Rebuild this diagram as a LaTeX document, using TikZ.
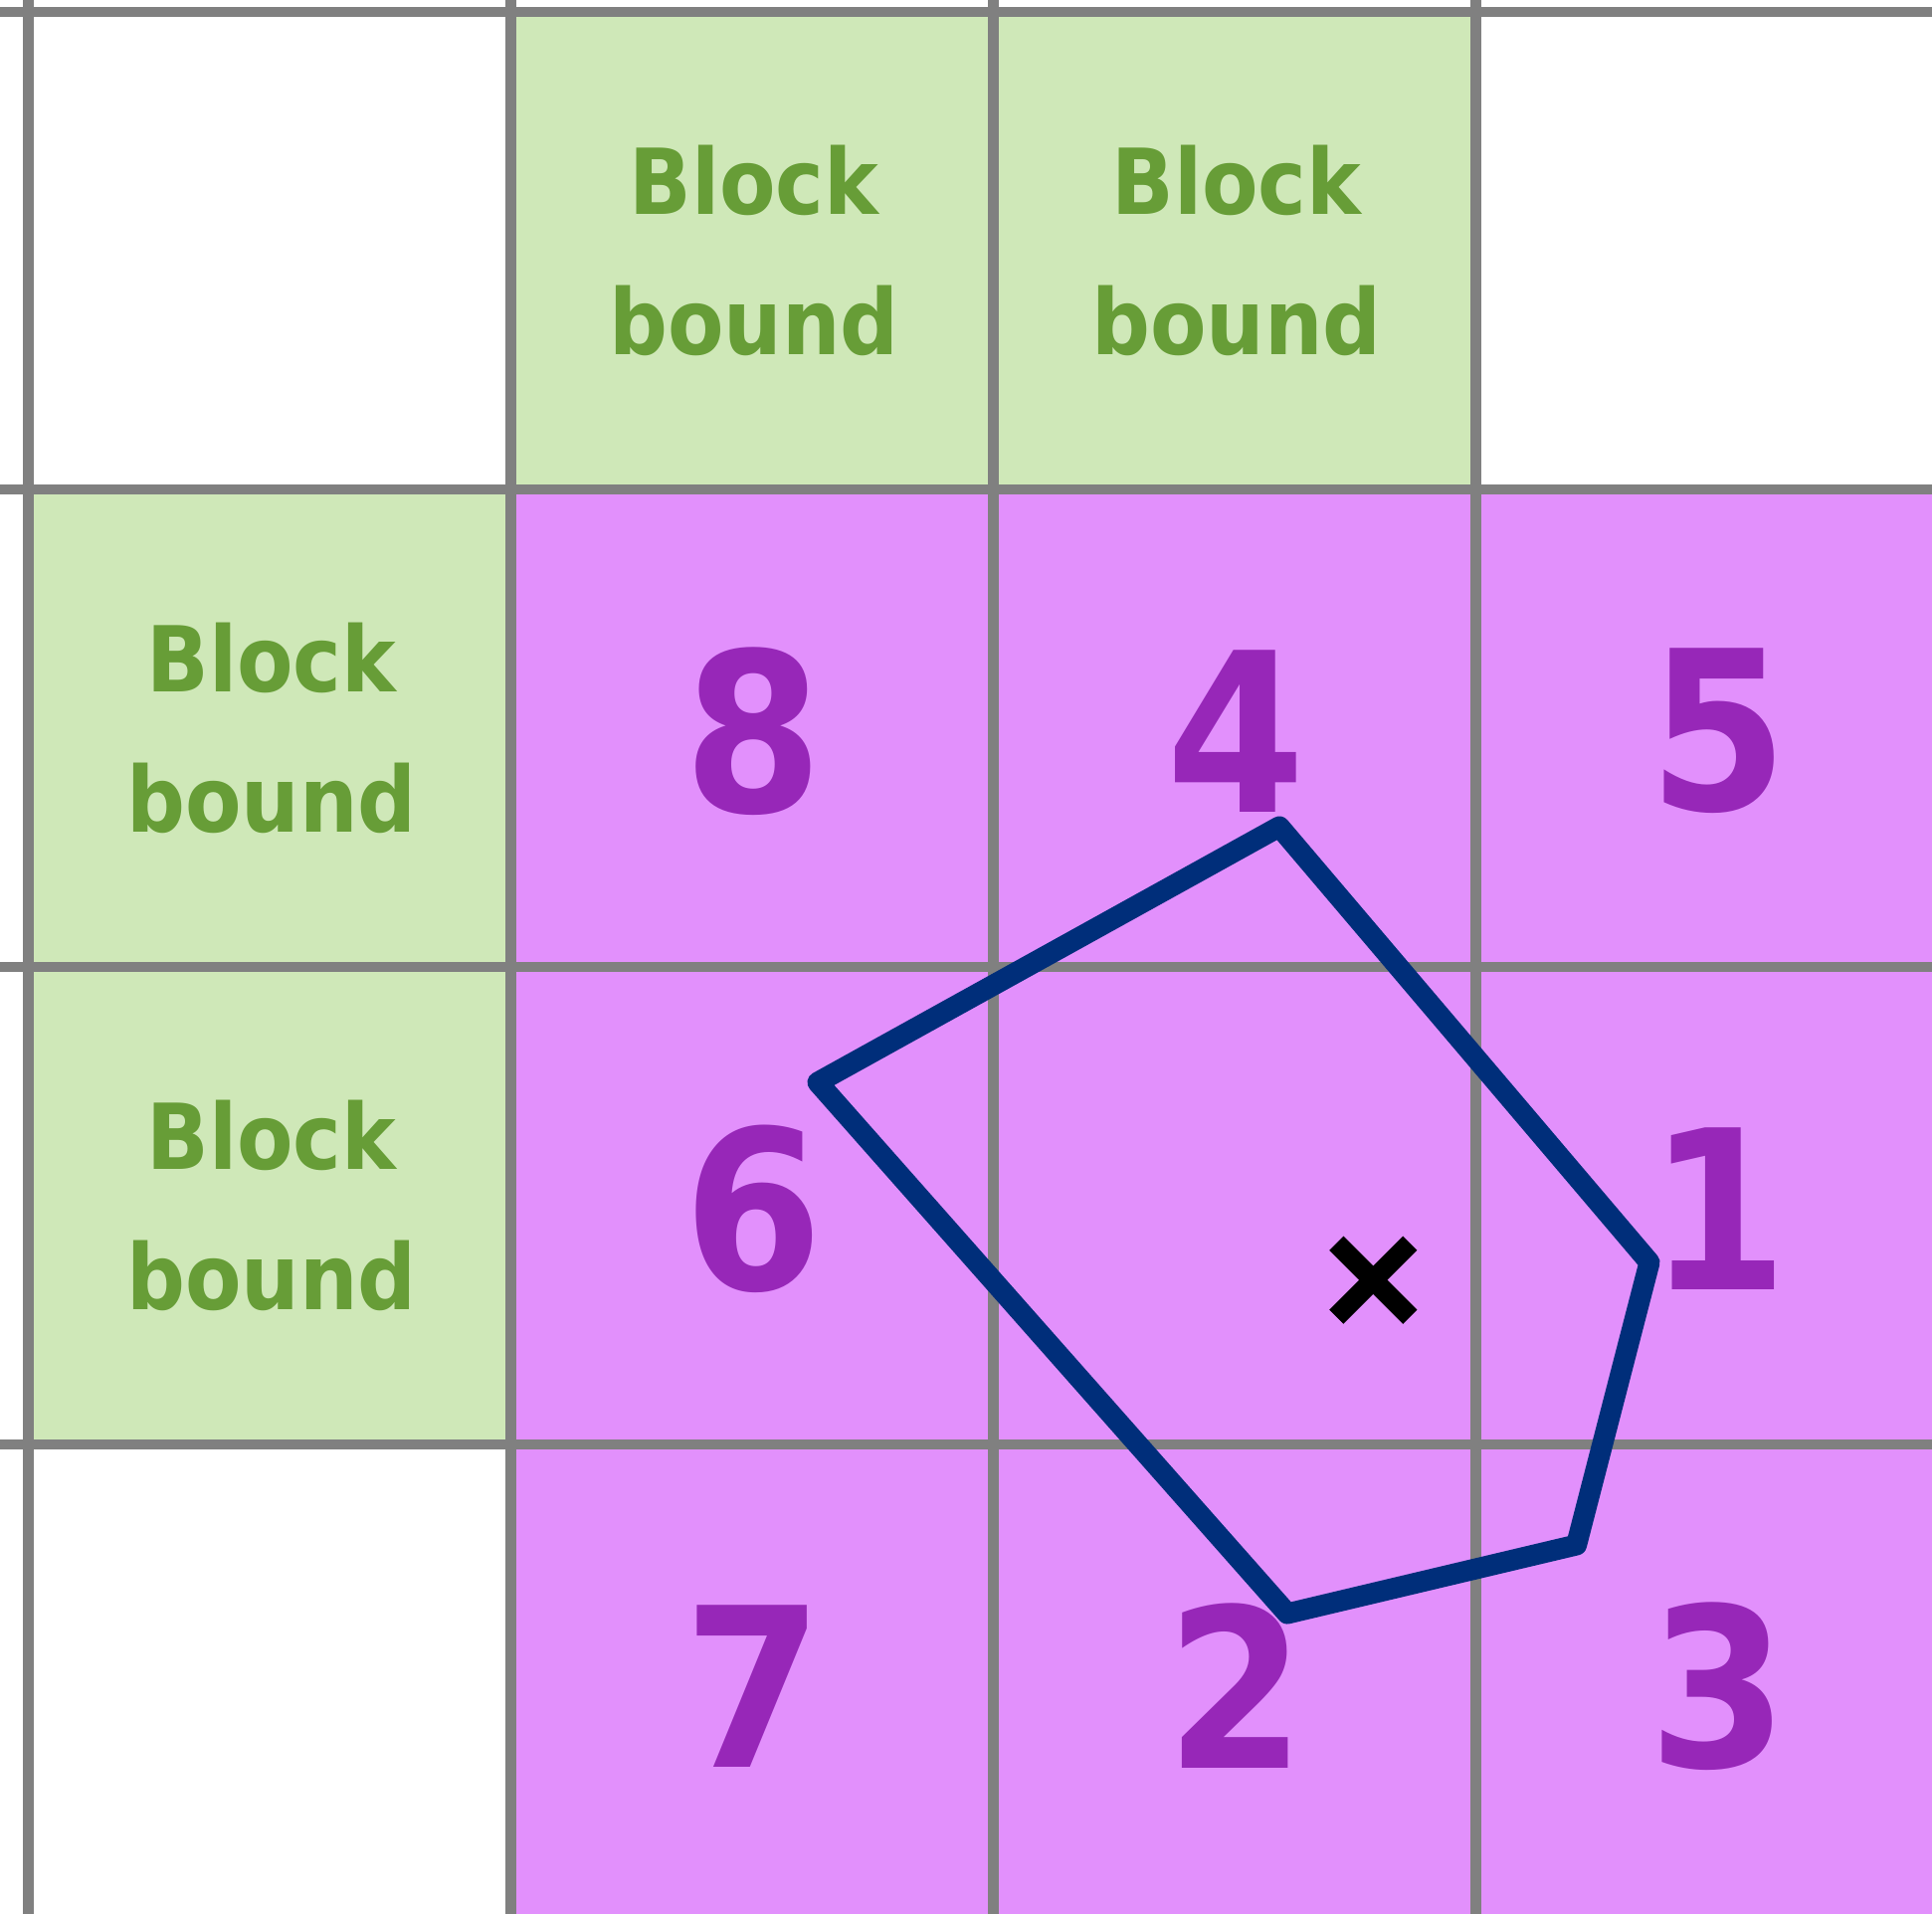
\documentclass[tikz,border=0pt]{standalone}
\usepackage{fontspec}
\newfontfamily\cellfont{DejaVu Sans Condensed}
\definecolor{gridgray}{RGB}{128,128,128}
\definecolor{blockgreen}{RGB}{207,232,184}
\definecolor{boundgreen}{RGB}{103,157,55}
\definecolor{cellpink}{RGB}{226,144,252}
\definecolor{numpurple}{RGB}{151,39,184}
\definecolor{polynavy}{RGB}{0,46,122}
\begin{document}
\begin{tikzpicture}[x=0.01cm,y=-0.01cm,
    gridline/.style={gridgray,line width=0.105cm},
    blocktext/.style={align=center,text=boundgreen,
      font=\cellfont\bfseries\fontsize{26}{40.3}\selectfont},
    numtext/.style={text=numpurple,
      font=\cellfont\bfseries\fontsize{63.5}{70}\selectfont},
    polyline/.style={polynavy,line width=0.21cm,line join=round},
    crossline/.style={black,line width=0.2cm}]
    % 1. Khung ve (1 don vi = 1 pixel, truc y huong xuong)
    \useasboundingbox (0,0) rectangle (1942,1924);
    \fill[white] (0,0) rectangle (1942,1924);

    % 2. To mau cac o
    \fill[blockgreen] (513.6,11.8) rectangle (1483.4,491.8);
    \fill[blockgreen] (28.7,491.8) rectangle (513.6,1451.8);
    \fill[cellpink] (513.6,491.8) rectangle (1942,1924);

    % 3. Luoi
    \foreach \x in {28.7,513.6,998.5,1483.4}
        \draw[gridline] (\x,0) -- (\x,1924);
    \foreach \y in {11.8,491.8,971.8,1451.8}
        \draw[gridline] (0,\y) -- (1942,\y);

    % 4. Nhan "Block bound"
    \node[blocktext] (bbA) at (758,252) {Block\\bound};
    \node[blocktext] (bbB) at (1243,252) {Block\\bound};
    \node[blocktext] (bbC) at (273,732) {Block\\bound};
    \node[blocktext] (bbD) at (273,1212) {Block\\bound};

    % 5. So thu tu cac o
    \node[numtext] (n8) at (757,735) {8};
    \node[numtext] (n4) at (1242,735) {4};
    \node[numtext] (n5) at (1727,735) {5};
    \node[numtext] (n6) at (757,1215) {6};
    \node[numtext] (n1) at (1727,1215) {1};
    \node[numtext] (n7) at (757,1695) {7};
    \node[numtext] (n2) at (1242,1695) {2};
    \node[numtext] (n3) at (1727,1695) {3};

    % 6. Da giac
    \coordinate (pA) at (1286,831);
    \coordinate (pB) at (1658,1269);
    \coordinate (pC) at (1584.6,1553);
    \coordinate (pD) at (1294,1622);
    \coordinate (pE) at (822,1088);
    \draw[polyline] (pA) -- (pB) -- (pC) -- (pD) -- (pE) -- cycle;

    % 7. Dau x
    \coordinate (xc) at (1380.3,1286.7);
    \draw[crossline] ([shift={(-37,-37)}]xc) -- ([shift={(37,37)}]xc);
    \draw[crossline] ([shift={(-37,37)}]xc) -- ([shift={(37,-37)}]xc);

\end{tikzpicture}
\end{document}
